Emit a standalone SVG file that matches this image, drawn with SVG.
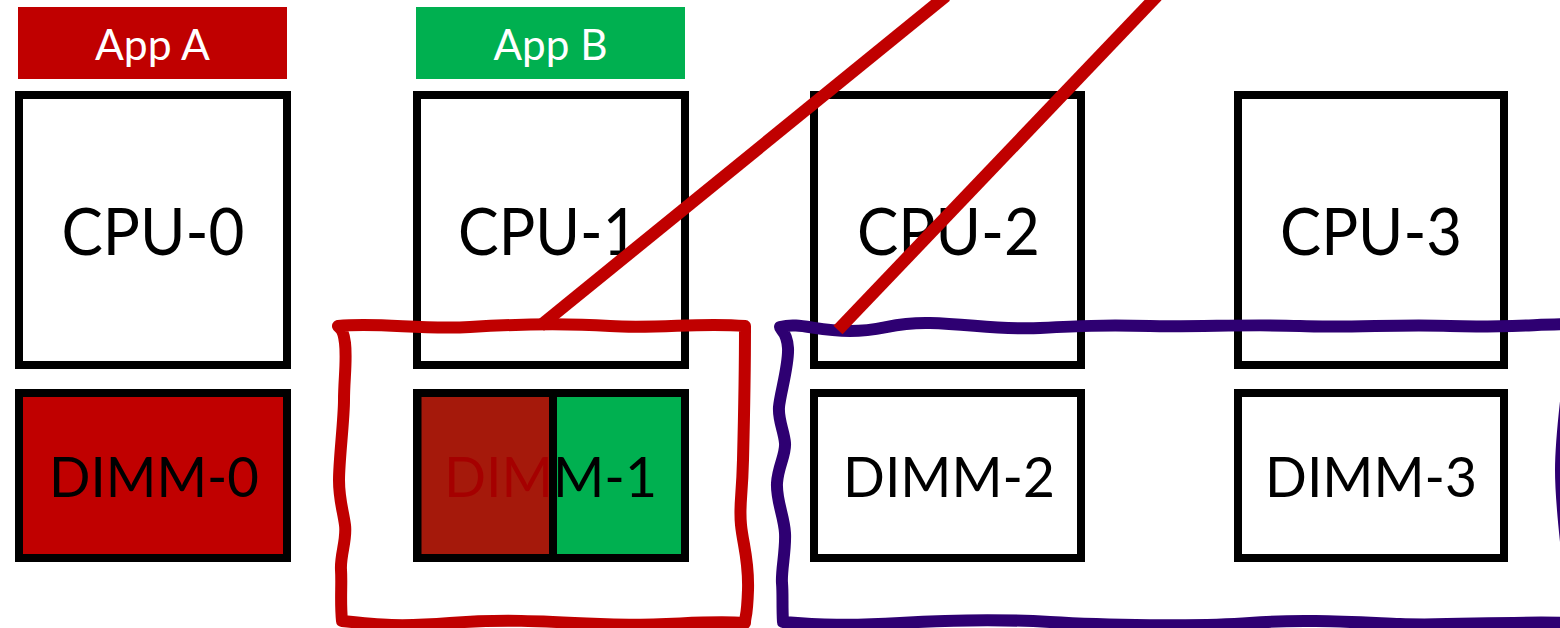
<svg xmlns="http://www.w3.org/2000/svg" width="1560" height="628" viewBox="0 0 1560 628">
  <style>
    .box { fill: #ffffff; stroke: #000000; stroke-width: 8; }
    .lbl { font-family: Lato, "Liberation Sans", sans-serif; fill: #000000; text-anchor: middle; }
    .cpu { font-size: 65px; }
    .dimm { font-size: 57px; }
    .app { font-family: Lato, "Liberation Sans", sans-serif; font-size: 43px; fill: #ffffff; text-anchor: middle; }
    .wavy { fill: none; stroke-width: 12; stroke-linejoin: round; }
    .conn { stroke: #C00000; stroke-width: 12.5; fill: none; }
  </style>
  <rect width="1560" height="628" fill="#ffffff"/>

  <g id="app-a">
    <rect x="18" y="7" width="269" height="72" fill="#C00000"/>
    <text class="app" x="152.5" y="60" textLength="115" lengthAdjust="spacingAndGlyphs">App A</text>
  </g>
  <g id="app-b">
    <rect x="416" y="7" width="269" height="72" fill="#00B050"/>
    <text class="app" x="550.5" y="60" textLength="114" lengthAdjust="spacingAndGlyphs">App B</text>
  </g>

  <g id="cpu-0">
    <rect class="box" x="19" y="95" width="268" height="270"/>
    <text class="lbl cpu" x="153" y="255" textLength="183" lengthAdjust="spacingAndGlyphs">CPU-0</text>
  </g>
  <g id="cpu-1">
    <rect class="box" x="417" y="95" width="268" height="270"/>
    <text class="lbl cpu" x="548" y="255" textLength="180" lengthAdjust="spacingAndGlyphs">CPU-1</text>
  </g>
  <g id="cpu-2">
    <rect class="box" x="814" y="95" width="267" height="270"/>
    <text class="lbl cpu" x="948.5" y="255" textLength="183" lengthAdjust="spacingAndGlyphs">CPU-2</text>
  </g>
  <g id="cpu-3">
    <rect class="box" x="1238" y="95" width="266" height="270"/>
    <text class="lbl cpu" x="1371" y="255" textLength="182" lengthAdjust="spacingAndGlyphs">CPU-3</text>
  </g>

  <g id="dimm-0">
    <rect class="box" x="19" y="393" width="268" height="165" style="fill:#C00000"/>
    <text class="lbl dimm" x="154" y="497" textLength="210" lengthAdjust="spacingAndGlyphs">DIMM-0</text>
  </g>
  <g id="dimm-1">
    <rect class="box" x="417" y="393" width="268" height="165" style="fill:#00B050"/>
    <text class="lbl dimm" x="550.5" y="497" textLength="213" lengthAdjust="spacingAndGlyphs">DIMM-1</text>
    <rect x="417.5" y="393" width="135.5" height="165" fill="#C00000" fill-opacity="0.86" stroke="#000000" stroke-width="8"/>
  </g>
  <g id="dimm-2">
    <rect class="box" x="814" y="393" width="267" height="165"/>
    <text class="lbl dimm" x="949" y="497" textLength="212" lengthAdjust="spacingAndGlyphs">DIMM-2</text>
  </g>
  <g id="dimm-3">
    <rect class="box" x="1238" y="393" width="266" height="165"/>
    <text class="lbl dimm" x="1371" y="497" textLength="212" lengthAdjust="spacingAndGlyphs">DIMM-3</text>
  </g>

  <g id="group-app-a">
    <path class="wavy" stroke="#C00000" d="M 338,326 C 380,322 420,330 470,327 S 560,323 610,326 S 700,322 745,326 C 745,380 744,420 743,460 S 739,505 741,525 S 749,560 748,590 S 745,615 745,623 C 700,620 660,627 600,624 S 500,619 450,623 S 380,625 342,621 C 340,600 342,585 341,570 S 347,540 345,525 S 339,500 339,480 S 344,420 344,400 S 347,360 345,343 S 339,329 338,326 Z"/>
  </g>
  <g id="group-app-b">
    <path class="wavy" stroke="#2E0072" d="M 780,327 C 800,322 815,331 850,331 S 890,322 930,323 S 1000,330 1040,328 S 1100,325 1150,326 S 1250,324 1300,326 S 1400,324 1450,326 S 1540,324 1575,324 L 1573,340 C 1568,390 1561,430 1561,470 S 1568,560 1573,600 L 1575,623 C 1500,621 1450,626 1400,624 S 1300,619 1250,623 S 1100,625 1050,622 S 950,620 900,623 S 820,625 783,622 C 782,605 783,595 782,583 S 786,550 785,533 S 776,500 777,483 S 786,455 785,443 S 778,420 779,407 S 789,365 788,348 S 780,330 780,327 Z"/>
  </g>

  <g id="connectors">
    <line class="conn" x1="540" y1="326" x2="946" y2="-4"/>
    <line class="conn" x1="838" y1="330" x2="1157" y2="-4"/>
  </g>
</svg>
